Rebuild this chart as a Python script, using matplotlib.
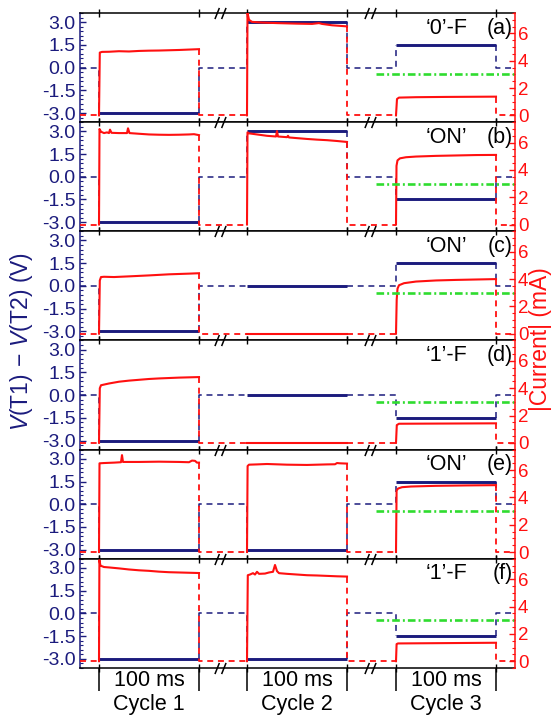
import matplotlib
matplotlib.use('Agg')
import matplotlib.pyplot as plt
from matplotlib.path import Path
from matplotlib.ticker import FixedLocator, FormatStrFormatter, AutoMinorLocator, NullFormatter

plt.rcParams['font.family'] = ['Liberation Sans', 'DejaVu Sans']
plt.rcParams['mathtext.fontset'] = 'custom'
plt.rcParams['mathtext.rm'] = 'Liberation Sans'
plt.rcParams['mathtext.it'] = 'Liberation Sans:italic'
plt.rcParams['axes.unicode_minus'] = False
plt.rcParams['lines.scale_dashes'] = False

NAVY = '#1b1b7d'
RED = '#ff1010'
GREEN = '#2fdc2f'

# time layout of the broken axis (100 ms per cycle)
cycle_starts = [19, 167, 316]
cycle_len = 100
x_end = 435
break_x = [140, 290]
cycle_names = ['Cycle 1', 'Cycle 2', 'Cycle 3']
cycle_width_label = '100 ms'

# current threshold shown in cycle 3
i_threshold = 3.0
threshold_from = 296

panel_tags = ['(a)', '(b)', '(c)', '(d)', '(e)', '(f)']
panel_states = ['\u20180\u2019-F', '\u2018ON\u2019', '\u2018ON\u2019',
                '\u20181\u2019-F', '\u2018ON\u2019', '\u20181\u2019-F']

# applied voltage V(T1)-V(T2) during cycles 1..3 (V)
volt_a = [-3.0, 3.0, 1.5]
volt_b = [-3.0, 3.0, -1.5]
volt_c = [-3.0, 0.0, 1.5]
volt_d = [-3.0, 0.0, -1.5]
volt_e = [-3.0, -3.0, 1.5]
volt_f = [-3.0, -3.0, -1.5]

# measured |current| (mA) as (time within cycle in ms, value)
cur_a1 = [(0, 0), (0.8, 4.6), (3, 4.65), (10, 4.66), (20, 4.7), (30, 4.68), (40, 4.72),
          (50, 4.74), (60, 4.75), (70, 4.77), (80, 4.79), (90, 4.82), (100, 4.85)]
cur_a2 = [(0, 0), (0.5, 7.5), (2, 7.0), (5, 6.85), (15, 6.8), (30, 6.76), (50, 6.72),
          (65, 6.7), (72, 6.76), (75, 6.7), (85, 6.6), (100, 6.52)]
cur_a3 = [(0, 0), (1, 1.2), (3, 1.3), (20, 1.33), (50, 1.35), (100, 1.37)]

cur_b1 = [(0, 0), (0.5, 7.0), (2, 6.8), (5, 6.7), (8, 6.75), (10, 6.7), (11, 6.95), (12.5, 6.72),
          (20, 6.7), (28, 6.7), (29, 7.05), (30.5, 6.7), (40, 6.65), (50, 6.6), (60, 6.58),
          (70, 6.57), (80, 6.58), (90, 6.6), (95, 6.62), (100, 6.55)]
cur_b2 = [(0, 0), (0.5, 6.75), (2, 6.68), (10, 6.6), (20, 6.5), (29, 6.45), (30, 6.85),
          (31, 6.45), (40, 6.4), (41, 6.5), (42, 6.38), (50, 6.33), (60, 6.27), (70, 6.22),
          (80, 6.18), (90, 6.12), (100, 6.05)]
cur_b3 = [(0, 0), (0.5, 4.3), (1.5, 4.7), (4, 4.85), (10, 4.93), (20, 4.98), (40, 5.03),
          (60, 5.06), (80, 5.09), (100, 5.1)]

cur_c1 = [(0, 0), (0.8, 3.9), (2, 4.15), (5, 4.17), (15, 4.15), (30, 4.2), (50, 4.27),
          (70, 4.35), (90, 4.4), (100, 4.43)]
cur_c2 = [(0, 0), (100, 0)]
cur_c3 = [(0, 0), (0.7, 2.5), (1.5, 3.3), (3, 3.55), (8, 3.7), (20, 3.82), (40, 3.9),
          (60, 3.94), (80, 3.97), (100, 4.0)]

cur_d1 = [(0, 0), (0.8, 4.0), (2, 4.22), (5, 4.27), (10, 4.35), (20, 4.48), (30, 4.56),
          (40, 4.62), (50, 4.68), (60, 4.72), (70, 4.75), (80, 4.78), (90, 4.8), (100, 4.82)]
cur_d2 = [(0, 0), (100, 0)]
cur_d3 = [(0, 0), (0.8, 1.3), (3, 1.4), (100, 1.43)]

cur_e1 = [(0, 0), (0.5, 6.5), (5, 6.52), (15, 6.55), (22, 6.58), (23, 7.1), (24, 6.6),
          (40, 6.6), (60, 6.62), (80, 6.6), (90, 6.58), (93, 6.7), (96, 6.68), (98, 6.55),
          (100, 6.55)]
cur_e2 = [(0, 0), (0.6, 6.3), (2, 6.4), (10, 6.42), (20, 6.45), (40, 6.4), (60, 6.38),
          (80, 6.42), (88, 6.43), (90, 6.52), (93, 6.5), (100, 6.48)]
cur_e3 = [(0, 0), (0.6, 4.5), (2, 4.65), (6, 4.75), (15, 4.8), (40, 4.85), (70, 4.88),
          (100, 4.9)]

cur_f1 = [(0, 0), (0.4, 7.4), (1.5, 7.0), (5, 6.9), (10, 6.87), (20, 6.8), (30, 6.72),
          (40, 6.66), (50, 6.62), (60, 6.56), (70, 6.52), (80, 6.5), (90, 6.48), (100, 6.46)]
cur_f2 = [(0, 0), (0.8, 6.3), (3, 6.35), (6, 6.45), (8, 6.35), (10, 6.55), (12, 6.4),
          (18, 6.42), (22, 6.5), (26, 6.55), (28, 7.05), (30, 6.6), (32, 6.45), (40, 6.4),
          (50, 6.35), (60, 6.3), (70, 6.28), (80, 6.25), (90, 6.22), (100, 6.2)]
cur_f3 = [(0, 0), (0.6, 1.25), (2, 1.3), (100, 1.35)]

volts = [volt_a, volt_b, volt_c, volt_d, volt_e, volt_f]
currents = [[cur_a1, cur_a2, cur_a3], [cur_b1, cur_b2, cur_b3], [cur_c1, cur_c2, cur_c3],
            [cur_d1, cur_d2, cur_d3], [cur_e1, cur_e2, cur_e3], [cur_f1, cur_f2, cur_f3]]

v_ticks = [-3.0, -1.5, 0.0, 1.5, 3.0]
i_ticks = [0, 2, 4, 6]

DASH = (0, (4.3, 3.4))
DASHDOT = (0, (5.5, 2.2, 1.4, 2.2))

fig = plt.figure(figsize=(5.54, 7.17), dpi=100)
L, R, B, T = 80 / 554, 515 / 554, 1 - 668 / 717, 1 - 13 / 717
H = (T - B) / 6

# "//" break symbol used on the horizontal spines
brk = Path([(-1.0, -1.0), (-0.2, 1.0), (0.2, -1.0), (1.0, 1.0)],
           [Path.MOVETO, Path.LINETO, Path.MOVETO, Path.LINETO])

ends = [s + cycle_len for s in cycle_starts]
n = len(volts)
for k in range(n):
    ax = fig.add_axes([L, T - (k + 1) * H, R - L, H])
    axr = ax.twinx()
    ax.set_xlim(0, x_end)
    ax.set_ylim(-3.6, 3.6)
    axr.set_ylim(-0.5, 7.5)

    v = volts[k]
    # voltage: solid during the pulses, dashed in between
    dash_x = [[0, cycle_starts[0], cycle_starts[0]]]
    dash_y = [[0, 0, v[0]]]
    for j in range(2):
        dash_x.append([ends[j], ends[j], cycle_starts[j + 1], cycle_starts[j + 1]])
        dash_y.append([v[j], 0, 0, v[j + 1]])
    dash_x.append([ends[2], ends[2], x_end])
    dash_y.append([v[2], 0, 0])
    for xs, ys in zip(dash_x, dash_y):
        ax.plot(xs, ys, color=NAVY, lw=1.1, linestyle=DASH)
    for j in range(3):
        ax.plot([cycle_starts[j], ends[j]], [v[j], v[j]], color=NAVY, lw=2.1,
                solid_capstyle='butt')

    # current traces
    traces = currents[k]
    last = [tr[-1][1] for tr in traces]
    axr.plot([0, cycle_starts[0]], [0, 0], color=RED, lw=1.3, linestyle=DASH)
    for j in range(2):
        axr.plot([ends[j], ends[j], cycle_starts[j + 1]], [last[j], 0, 0],
                 color=RED, lw=1.3, linestyle=DASH)
    axr.plot([ends[2], ends[2], x_end], [last[2], 0, 0], color=RED, lw=1.3, linestyle=DASH)
    for j, tr in enumerate(traces):
        axr.plot([cycle_starts[j] + t for t, _ in tr], [c for _, c in tr],
                 color=RED, lw=1.5, solid_joinstyle='round')

    axr.plot([threshold_from, x_end], [i_threshold, i_threshold], color=GREEN, lw=1.9,
             linestyle=DASHDOT)

    # spines
    for sp in ['top', 'bottom']:
        ax.spines[sp].set_color('black')
        ax.spines[sp].set_linewidth(1.1)
        axr.spines[sp].set_visible(False)
    ax.spines['left'].set_color(NAVY)
    ax.spines['left'].set_linewidth(1.1)
    ax.spines['right'].set_visible(False)
    axr.spines['left'].set_visible(False)
    axr.spines['right'].set_color(RED)
    axr.spines['right'].set_linewidth(1.1)

    # x ticks at pulse edges
    ax.xaxis.set_major_locator(FixedLocator(cycle_starts + ends))
    ax.xaxis.set_major_formatter(NullFormatter())
    ax.tick_params(axis='x', which='both', direction='inout', length=6, width=1.0,
                   top=True, bottom=True, color='black')

    ax.yaxis.set_major_locator(FixedLocator(v_ticks))
    ax.yaxis.set_major_formatter(FormatStrFormatter('%.1f'))
    ax.yaxis.set_minor_locator(AutoMinorLocator(5))
    ax.tick_params(axis='y', which='major', direction='in', length=4, width=1.0,
                   colors=NAVY, labelsize=14, pad=3)
    ax.tick_params(axis='y', which='minor', direction='in', length=2, width=0.8, colors=NAVY)

    axr.yaxis.set_major_locator(FixedLocator(i_ticks))
    axr.yaxis.set_minor_locator(AutoMinorLocator(4))
    axr.tick_params(axis='y', which='major', direction='in', length=4, width=1.0,
                    colors=RED, labelsize=13.5, pad=2)
    axr.tick_params(axis='y', which='minor', direction='in', length=2, width=0.8, colors=RED)

    # break marks on the spines
    xt = ax.get_xaxis_transform()
    ax.plot(break_x, [1, 1], transform=xt, marker=brk, markersize=8, ls='none',
            color='black', mew=1.1, clip_on=False, zorder=5)
    if k == n - 1:
        ax.plot(break_x, [0, 0], transform=xt, marker=brk, markersize=8, ls='none',
                color='black', mew=1.1, clip_on=False, zorder=5)
        ax.vlines(cycle_starts + ends, -0.21, 0, transform=xt, color='black', lw=1.1,
                  clip_on=False)
        for j in range(3):
            mid = cycle_starts[j] + cycle_len / 2
            ax.text(mid, -0.11, cycle_width_label, transform=xt, ha='center', va='center',
                    fontsize=15.5)
            ax.text(mid, -0.33, cycle_names[j], transform=xt, ha='center', va='center',
                    fontsize=15.5)

    ax.text(0.89, 0.862, panel_states[k], transform=ax.transAxes, ha='right', va='center',
            fontsize=15.5, zorder=6)
    ax.text(0.994, 0.862, panel_tags[k], transform=ax.transAxes, ha='right', va='center',
            fontsize=15.5, zorder=6)

fig.text(0.038, 0.524, r'$\mathit{V}$(T1)$\,-\,\mathit{V}$(T2) (V)', rotation=90,
         ha='center', va='center', color=NAVY, fontsize=16.5)
fig.text(0.975, 0.527, '|Current| (mA)', rotation=90, ha='center', va='center',
         color=RED, fontsize=16.5)

fig.savefig('out.png', dpi=100)
